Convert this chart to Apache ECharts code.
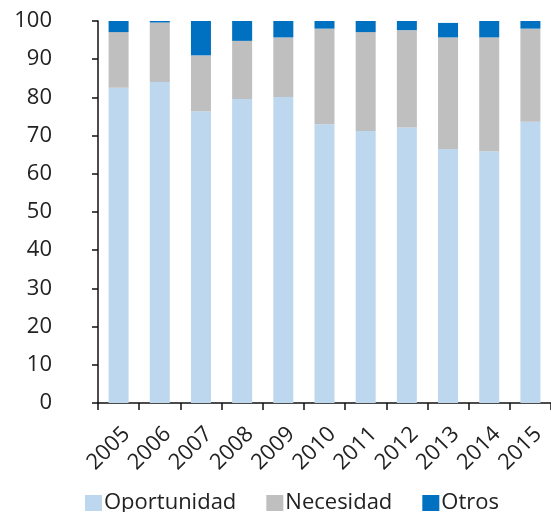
<!DOCTYPE html>
<html>
<head>
<meta charset="utf-8">
<script src="https://cdn.jsdelivr.net/npm/echarts@6/dist/echarts.min.js"></script>
<style>
  html, body { margin: 0; padding: 0; background: #fff; }
  #chart { width: 551px; height: 512px; }
</style>
</head>
<body>
<div id="chart"></div>
<script>
// Years on the category axis
const years = ['2005', '2006', '2007', '2008', '2009', '2010', '2011', '2012', '2013', '2014', '2015'];

// Share (%) of each motivation per year
const oportunidad = [82.5, 84.0, 76.4, 79.6, 80.1, 73.0, 71.2, 72.1, 66.5, 65.9, 73.6];
const necesidad   = [14.6, 15.6, 14.6, 15.2, 15.6, 25.0, 25.9, 25.5, 29.2, 29.8, 24.4];
const otros       = [ 2.9,  0.4,  9.0,  5.2,  4.3,  2.0,  2.9,  2.4,  3.8,  4.3,  2.0];

const seriesNames = ['Oportunidad', 'Necesidad', 'Otros'];
const seriesColors = ['#BDD7EE', '#BFBFBF', '#0070C0'];

const FONT = '"Open Sans", "DejaVu Sans", sans-serif';
const chart = echarts.init(document.getElementById('chart'), null, { renderer: 'canvas' });

const dataSets = [oportunidad, necesidad, otros];

chart.setOption({
  animation: false,
  backgroundColor: '#ffffff',
  grid: { left: 98, top: 21, bottom: 109, width: 459, containLabel: false },
  legend: {
    bottom: -7,
    left: 80,
    itemWidth: 17,
    itemHeight: 16,
    itemGap: 30,
    icon: 'rect',
    textStyle: { fontFamily: FONT, fontSize: 22, color: '#222', padding: [0, 0, 0, -3] },
    data: seriesNames
  },
  xAxis: {
    type: 'category',
    data: years,
    boundaryGap: true,
    axisLine: { lineStyle: { color: '#111', width: 1.5 } },
    axisTick: { show: true, alignWithLabel: false, length: 7, lineStyle: { color: '#111', width: 1.5 } },
    axisLabel: {
      rotate: 45, margin: 20, align: 'right', verticalAlign: 'top',
      fontFamily: FONT, fontSize: 22, color: '#222', interval: 0
    }
  },
  yAxis: {
    type: 'value',
    min: 0,
    max: 100,
    interval: 10,
    splitLine: { show: false },
    axisLine: { show: true, lineStyle: { color: '#111', width: 1.5 } },
    axisTick: { show: true, length: 6, lineStyle: { color: '#111', width: 1.5 } },
    axisLabel: { margin: 46, fontFamily: FONT, fontSize: 22, color: '#222' }
  },
  series: seriesNames.map((name, i) => ({
    name: name,
    type: 'bar',
    stack: 'total',
    barWidth: 20,
    itemStyle: { color: seriesColors[i] },
    data: dataSets[i]
  }))
});
</script>
</body>
</html>
